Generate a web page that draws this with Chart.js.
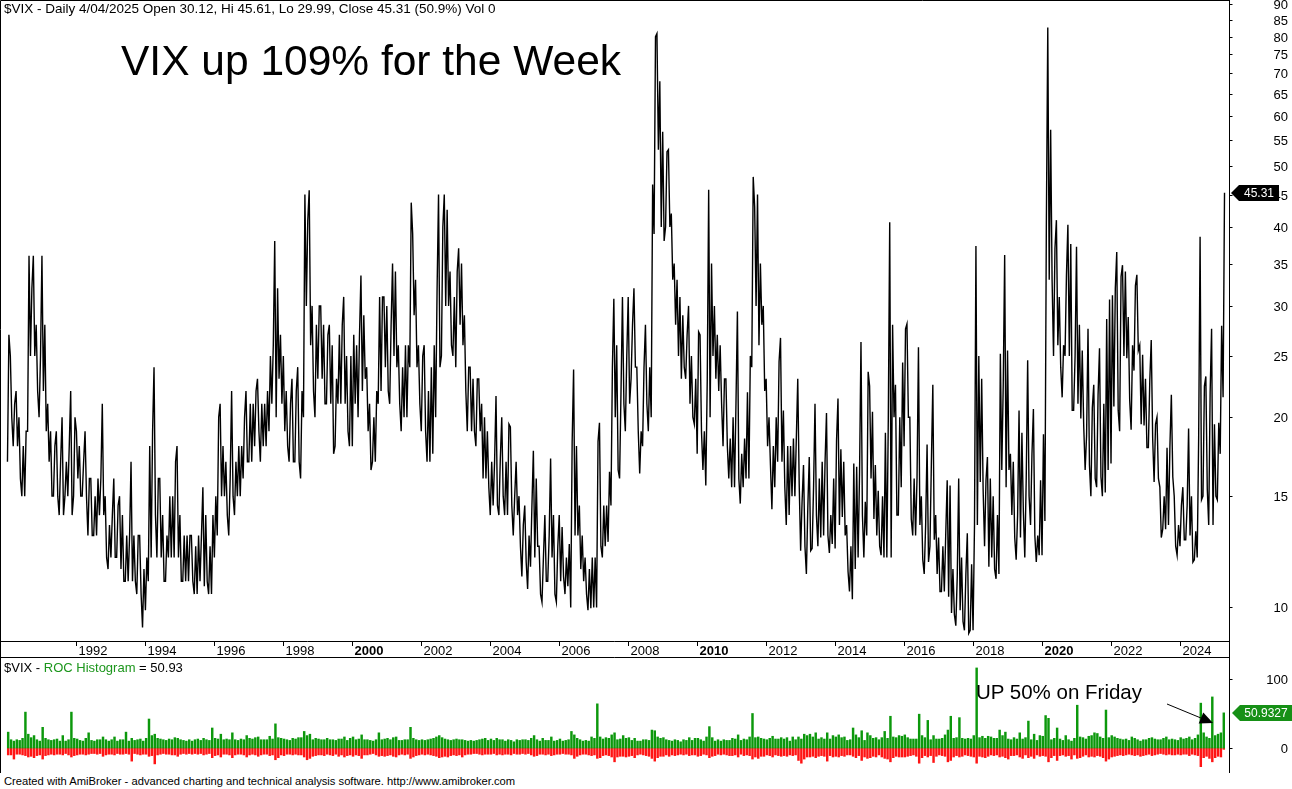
<!DOCTYPE html>
<html>
<head>
<meta charset="utf-8">
<script src="https://cdn.jsdelivr.net/npm/chart.js@4.4.1/dist/chart.umd.min.js"></script>
<style>
  html, body { margin: 0; padding: 0; background: #fff; }
  #wrap { position: relative; width: 1292px; height: 789px; overflow: hidden;
          font-family: Arial, "Liberation Sans", sans-serif; }
  canvas { position: absolute; left: 0; }
  .t { position: absolute; white-space: nowrap; color: #000; line-height: 1; }
</style>
</head>
<body>
<div id="wrap">
  <canvas id="main" width="1292" height="658" style="top:0"></canvas>
  <canvas id="roc" width="1292" height="115" style="top:658px"></canvas>
  <div class="t" style="left:4px;top:2px;font-size:13.5px">$VIX - Daily 4/04/2025 Open 30.12, Hi 45.61, Lo 29.99, Close 45.31 (50.9%) Vol 0</div>
  <div class="t" style="left:121px;top:40px;font-size:42.5px">VIX up 109% for the Week</div>
  <div class="t" style="left:4px;top:661px;font-size:13px">$VIX - <span style="color:#1c961c">ROC Histogram</span> = 50.93</div>
  <div class="t" style="left:976px;top:682px;font-size:20.5px">UP 50% on Friday</div>
  <div class="t" style="left:4px;top:776px;font-size:11.2px">Created with AmiBroker - advanced charting and technical analysis software. http://www.amibroker.com</div>
</div>
<script>
// monthly data, Jan 1990 .. Apr 2025
const startYear = 1990;

// lowest / highest VIX close seen in each month
const vixLow = [
  17,20,18,18,16,15,15,19,25,25,22,20,            // 1990
  22,19,17,15,15,15,14,14,15,15,14,15,            // 1991
  16,15,15,15,13,13,13,13,14,14,12,11.5,          // 1992
  12,12,12,11.5,11,11,11,11,11,10.5,10.5,9.3,     // 1993
  9.9,11,12,14,12,12,11,11,12,12,12,12,           // 1994
  11,11,11,11,11,10.5,10.5,11,10.8,11,10.5,10.5,  // 1995
  12,13,15,15,14,13,15,14,15,15,16,17,            // 1996
  17,17,18,19,17,18,18,19,21,20,23,21,            // 1997
  19,18,17,17,17,17,16,20,30,26,22,20,            // 1998
  23,23,21,21,21,17.5,18,21,21,21,19,18,          // 1999
  18,21,20,22,23,19,16.5,17,17,21,22,24,          // 2000
  22,21,25,24,21,19,20,20,24,29,24,21,            // 2001
  19,19,17,17,17.5,20,24,25,30,30,26,25,          // 2002
  24,28,26,22,19,19,19,18,19,16,16,15.5,          // 2003
  14,14.5,14.5,14,15,14,14,14.5,13,14,12.5,11.2,  // 2004
  11.8,10.7,11.6,12,12.5,10.5,10.2,11,11,12,10.5,10.2, // 2005
  11,11.2,10.5,10.8,10,13,13,11.5,11,10.5,9.9,9.97,    // 2006
  10,10,12.5,12,12.5,12.7,14.5,20,16.5,16,21,19,  // 2007
  21,23,24,19,16.3,18,21,19,20,39,53,40,          // 2008
  38,40,40,33,28,25,23,24,23,21,20,19.5,          // 2009
  17.5,19,16.5,15.6,20,25,23,22,21,18,18,16,      // 2010
  15.5,15.5,16,14.6,15.5,16,16,24,30,26,28,22,    // 2011
  18,16.8,14.3,15.5,17,17,15.5,13.5,14,15,15,15.7,     // 2012
  12.3,12.5,11.3,12.3,12.4,14,12.5,12.9,13,13,12.2,12.6, // 2013
  12.4,13.5,13.9,13,11.4,10.6,10.3,11.5,12,14,12,13,     // 2014
  16,13.8,13,12.5,12.1,12,12,12,20,14,14,15.5,    // 2015
  18,20,13.8,13,13,13.5,11.9,11.3,11.8,12.5,12.8,11.3,   // 2016
  10.6,10.6,10.6,10.4,9.8,9.75,9.36,9.9,9.5,9.2,9.1,9.2, // 2017
  9.2,13.5,15.8,15.4,12.5,11.6,12,11.5,11.1,11.3,16.5,15.5, // 2018
  16.5,14,12.9,11.9,12.9,14.2,12,15,13.5,13,11.8,12.1,   // 2019
  12.1,13.7,33,33,25,26,24,21.5,25,25,20.5,20.5,  // 2020
  21,19.9,19.4,16.5,16.8,15,16,15.5,16.1,15,15.2,16.5,   // 2021
  16.9,20.8,20.5,19,25,24.8,21.3,19.1,23.7,25.5,19.5,19.4, // 2022
  17.9,17.9,18.5,15.8,16,12.9,13.3,13.3,13.5,16.1,12.5,12.1, // 2023
  12.5,12.8,12.8,13,11.8,11.9,12,14.8,15,15.4,13.5,13.5, // 2024
  15,14.8,17.5,21.5                               // 2025
];
const vixHigh = [
  27,25,21,22,20,18,19,36,32,36,28,25,            // 1990
  36,28,21,19,18,19,17,20,17,18,22,20,            // 1991
  19,18,17,19,16,16,15,16,16,21,15,13.5,          // 1992
  14,16,14.5,15,14,13,13,17,13,13,13,11.5,        // 1993
  12,18,19,24,16,16,14,13,15,15,17,18,            // 1994
  14,13,13,13,13,12.5,13,13,15.5,14,12.5,14,      // 1995
  15,20,21,18,17,16,22,17,18,18,20,22,            // 1996
  21,21,22,23,21,21,22,25,26,38,32,27,            // 1997
  25,22,21,23,22,24,22,45,41,45.7,30,28,          // 1998
  30,30,28,27,28,26,23,27,28,31,25,25,            // 1999
  27,26,27,33.5,29,24,21,20,22,31,31,31,          // 2000
  30,28,35,34,26,24,26,26,43.7,39,33,26,          // 2001
  25,26,22,24,26,32,45,40,45,42.6,34,31,          // 2002
  34,37,35,29,24,24,23,23,23,21,20,19,            // 2003
  17,17,21.6,17.2,20,17,19.5,19.3,15,17,15,13.5,  // 2004
  14.5,13,14.5,17.7,16,12.5,12,14,13,17.2,14,12.5,     // 2005
  14,13.4,12,12.6,18.3,23.8,18,14.5,13,12,11.5,12,     // 2006
  12,18.3,19.6,14.5,14.5,16.4,24,30.8,26,22,31,25,     // 2007
  31,28,32,24,19,24,28,24,46.7,80,80.9,68,        // 2008
  56.6,52.6,53,42,35,33,31,29,27,30,25,23,        // 2009
  27.3,27,19,22.8,45.8,35,30,27,26,23,23,18.5,    // 2010
  20,21,29.4,17.5,18.5,21.9,25,48,43,45,35,30,    // 2011
  23,20,18,20,24.5,26.7,20.5,18,18,18.5,18.5,23,  // 2012
  14.7,16.8,14.4,17.3,15.5,21,16,17,17,20.3,14,16,     // 2013
  18.4,21.4,17.8,17,13.5,12.5,16.9,16.7,16.3,26.3,14.7,23.6, // 2014
  22.4,20.4,16.8,15.3,15,18.9,19.7,40.7,28,22.5,20,24.4,     // 2015
  27.6,28.1,20,16,16,25.8,15,13.5,18.1,17,22.5,14,     // 2016
  12.9,12.5,13.1,15.9,15.6,11.5,11.2,16,12,11.3,13.1,11.7,   // 2017
  13.5,37.3,25,23,15.9,17.3,16,15,14,25.2,22.5,36.1,   // 2018
  25.5,17.5,17,14,20.5,18.9,16,24.6,17.5,20.6,13,15.9, // 2019
  18.8,40.1,82.7,57,37,41,31,26,33.6,40.3,37.6,25,     // 2020
  37.2,28,25.5,18.7,27.6,20.7,22.5,21.7,25.7,21,28.6,30.7,   // 2021
  31.2,32,36.5,33.4,34.8,34,28.8,26,32.3,33.6,26,25.1,       // 2022
  23,22.9,26.5,19.5,20,15.5,15,17.9,18,21.7,15,13.5,   // 2023
  14.5,15.5,14.5,19.2,15,13.2,18.5,38.6,22.4,23.2,21.9,27.6, // 2024
  19.5,19.6,27.9,45.31                            // 2025
];

// biggest daily % rise / fall of each month (ROC histogram)
const rocUp = [
  23,12,10,12,11,14,52,20,15,18,12,10,  // 1990
  30,14,12,11,12,13,10,18,10,12,52,14,  // 1991
  13,11,10,14,22,11,10,12,12,16,12,10,  // 1992
  12,16,10,12,12,23,10,14,11,12,13,10,  // 1993
  14,42,18,20,14,13,12,11,13,12,15,14,  // 1994
  12,11,10,12,10,12,13,11,14,12,11,29,  // 1995
  14,13,20,12,13,12,22,12,11,13,12,18,  // 1996
  14,13,15,16,12,12,12,17,13,35,15,14,  // 1997
  13,12,11,14,13,15,15,24,18,20,12,14,  // 1998
  13,12,12,14,12,12,11,13,13,16,11,14,  // 1999
  16,12,13,19,12,12,11,10,12,22,12,13,  // 2000
  14,12,15,16,11,11,12,12,30,14,12,11,  // 2001
  12,11,12,13,14,16,18,15,13,12,11,12,  // 2002
  13,12,12,11,10,11,10,11,12,13,14,11,  // 2003
  13,11,14,12,12,10,12,11,9,12,11,12,   // 2004
  12,11,14,18,12,10,14,11,11,16,10,11,  // 2005
  13,10,11,12,24,19,14,12,10,11,10,16,  // 2006
  14,64,16,13,15,14,19,22,12,13,18,14,  // 2007
  15,11,14,10,10,12,12,11,26,25,16,14,  // 2008
  15,12,11,10,12,11,9,12,11,15,11,14,   // 2009
  14,12,10,16,31,15,10,12,10,12,11,11,  // 2010
  14,13,19,11,13,12,16,50,15,16,14,13,  // 2011
  12,14,17,13,13,15,13,15,10,16,12,16,  // 2012
  13,20,18,20,16,22,13,15,13,22,13,18,  // 2013
  16,19,15,16,11,12,29,19,15,25,11,22,  // 2014
  18,14,15,12,15,24,14,46,16,15,18,17,  // 2015
  19,15,13,13,13,49,18,15,40,12,18,13,  // 2016
  13,14,19,26,46,14,15,44,14,13,14,13,  // 2017
  18,116,15,17,14,17,16,14,14,26,18,23, // 2018
  13,12,15,13,22,13,15,39,12,20,11,18,  // 2019
  17,47,43,12,14,29,13,11,18,12,10,14,  // 2020
  62,16,15,13,17,18,22,21,16,14,55,15,  // 2021
  18,16,14,13,12,13,11,16,14,12,10,12,  // 2022
  12,14,15,13,12,12,14,16,12,13,12,11,  // 2023
  15,13,14,16,12,14,19,65,22,16,14,74,  // 2024
  18,20,22,50.93                        // 2025
];
const rocDown = [
  -10,-10,-16,-9,-9,-10,-11,-13,-12,-14,-11,-10,  // 1990
  -16,-11,-10,-9,-10,-9,-9,-10,-8,-10,-13,-11,    // 1991
  -10,-9,-9,-10,-9,-8,-8,-9,-8,-12,-10,-9,        // 1992
  -9,-10,-8,-9,-9,-8,-9,-19,-8,-9,-10,-9,         // 1993
  -9,-12,-11,-23,-10,-9,-8,-9,-9,-10,-10,-12,     // 1994
  -9,-8,-9,-8,-9,-8,-9,-8,-10,-9,-8,-14,          // 1995
  -11,-10,-13,-9,-9,-10,-14,-10,-9,-9,-10,-13,    // 1996
  -10,-9,-10,-12,-10,-9,-9,-11,-10,-17,-14,-10,   // 1997
  -11,-9,-9,-10,-9,-10,-10,-13,-17,-15,-12,-11,   // 1998
  -10,-10,-11,-9,-10,-11,-9,-12,-10,-13,-11,-10,  // 1999
  -12,-10,-11,-15,-10,-10,-9,-8,-10,-12,-11,-12,  // 2000
  -11,-10,-12,-13,-10,-9,-10,-9,-15,-13,-11,-10,  // 2001
  -9,-10,-9,-10,-11,-12,-14,-13,-12,-13,-11,-10,  // 2002
  -11,-10,-13,-10,-9,-9,-8,-8,-9,-10,-9,-9,       // 2003
  -9,-8,-10,-9,-10,-9,-9,-10,-8,-9,-9,-8,         // 2004
  -9,-8,-10,-12,-11,-9,-9,-10,-9,-11,-10,-9,      // 2005
  -9,-8,-9,-9,-10,-15,-12,-10,-9,-9,-10,-11,      // 2006
  -10,-15,-14,-11,-10,-11,-13,-20,-13,-12,-12,-13,// 2007
  -12,-11,-14,-10,-9,-10,-11,-12,-15,-19,-14,-12, // 2008
  -12,-10,-12,-10,-11,-10,-9,-10,-9,-11,-10,-10,  // 2009
  -12,-11,-9,-10,-14,-12,-11,-9,-10,-9,-10,-11,   // 2010
  -11,-10,-13,-9,-11,-10,-11,-16,-13,-15,-12,-12, // 2011
  -10,-11,-13,-10,-11,-12,-11,-12,-10,-11,-10,-18,// 2012
  -22,-16,-13,-13,-12,-14,-12,-11,-12,-19,-11,-13,// 2013
  -12,-13,-11,-12,-10,-10,-12,-14,-11,-18,-13,-15,// 2014
  -14,-12,-13,-10,-13,-15,-16,-20,-14,-12,-13,-13,// 2015
  -13,-12,-11,-10,-12,-22,-14,-11,-13,-11,-21,-12,// 2016
  -10,-11,-12,-20,-18,-13,-11,-13,-12,-10,-11,-12,// 2017
  -13,-22,-12,-13,-14,-12,-10,-11,-10,-13,-12,-14,// 2018
  -16,-11,-11,-10,-13,-15,-10,-14,-12,-15,-10,-12,// 2019
  -11,-12,-20,-14,-11,-18,-11,-10,-12,-11,-16,-10,// 2020
  -15,-14,-12,-10,-13,-12,-13,-11,-12,-14,-19,-16,// 2021
  -13,-12,-11,-10,-11,-10,-9,-10,-11,-10,-12,-11, // 2022
  -10,-9,-11,-10,-9,-8,-9,-10,-9,-10,-10,-9,      // 2023
  -10,-9,-9,-11,-9,-10,-11,-27,-14,-12,-15,-20,   // 2024
  -14,-12,-13,-2                                  // 2025
];

const priceTicks = [10, 15, 20, 25, 30, 35, 40, 45, 50, 55, 60, 65, 70, 75, 80, 85, 90];
const rocTicks = [0, 100];
const yearTicks = [1992, 1994, 1996, 1998, 2000, 2002, 2004, 2006, 2008, 2010, 2012, 2014, 2016, 2018, 2020, 2022, 2024];
const lastClose = 45.31;
const lastRoc = 50.9327;

const X_MIN = 1989.85, X_MAX = 2025.43;
const FAMILY = 'Arial, "Liberation Sans", sans-serif';
const FONT = '13px ' + FAMILY;
const TAG_FONT = '12px ' + FAMILY;
const monthPos = (i, f) => startYear + (i + f) / 12;

// two points per month, low/high ordered by where the next month goes
const vixPoints = [];
vixLow.forEach((lo, i) => {
  const hi = vixHigh[i];
  const next = i + 1 < vixLow.length ? (vixLow[i + 1] + vixHigh[i + 1]) / 2 : Infinity;
  const rising = next >= (lo + hi) / 2;
  vixPoints.push({ x: monthPos(i, 0.1), y: rising ? lo : hi });
  vixPoints.push({ x: monthPos(i, 0.6), y: rising ? hi : lo });
});
const upPoints = rocUp.map((v, i) => ({ x: monthPos(i, 0.35), y: v }));
const downPoints = rocDown.map((v, i) => ({ x: monthPos(i, 0.35), y: v }));

function drawTag(ctx, tipX, cy, w, h, fill, text) {
  ctx.beginPath();
  ctx.moveTo(tipX, cy);
  ctx.lineTo(tipX + 8, cy - h / 2);
  ctx.lineTo(tipX + w, cy - h / 2);
  ctx.lineTo(tipX + w, cy + h / 2);
  ctx.lineTo(tipX + 8, cy + h / 2);
  ctx.closePath();
  ctx.fillStyle = fill;
  ctx.fill();
  ctx.fillStyle = '#fff';
  ctx.font = TAG_FONT;
  ctx.textAlign = 'center';
  ctx.textBaseline = 'middle';
  ctx.fillText(text, tipX + 8 + (w - 8) / 2, cy + 1);
}

const mainDecor = {
  id: 'mainDecor',
  afterDraw(chart) {
    const { ctx, chartArea: a, scales: { x, y } } = chart;
    const ax = Math.round(a.right) + 0.5;
    const H = chart.height;
    ctx.save();
    ctx.strokeStyle = '#000';
    ctx.lineWidth = 1;
    ctx.beginPath();
    ctx.moveTo(0.5, H); ctx.lineTo(0.5, 0.5); ctx.lineTo(ax, 0.5);
    ctx.moveTo(ax, 0); ctx.lineTo(ax, H);
    ctx.moveTo(0, 641.5); ctx.lineTo(ax, 641.5);
    ctx.moveTo(0, H - 0.5); ctx.lineTo(ax, H - 0.5);
    ctx.stroke();

    // price axis
    ctx.font = FONT;
    ctx.fillStyle = '#000';
    ctx.textAlign = 'right';
    ctx.textBaseline = 'middle';
    priceTicks.forEach(v => {
      const py = Math.round(y.getPixelForValue(v)) + 0.5;
      ctx.beginPath(); ctx.moveTo(ax, py); ctx.lineTo(ax + 3, py); ctx.stroke();
      ctx.fillText(String(v), 1288, py + 1);
    });

    // year axis
    ctx.textAlign = 'left';
    ctx.textBaseline = 'alphabetic';
    yearTicks.forEach(yr => {
      const px = Math.round(x.getPixelForValue(yr + 0.005)) + 0.5;
      ctx.beginPath(); ctx.moveTo(px, 642); ctx.lineTo(px, 646); ctx.stroke();
      ctx.font = (yr % 10 === 0 ? 'bold ' : '') + FONT;
      ctx.fillText(String(yr), px + 2, 655);
    });

    drawTag(ctx, 1231, Math.round(y.getPixelForValue(lastClose)), 48, 16, '#000', lastClose.toFixed(2));
    ctx.restore();
  }
};

const rocDecor = {
  id: 'rocDecor',
  afterDraw(chart) {
    const { ctx, chartArea: a, scales: { y } } = chart;
    const ax = Math.round(a.right) + 0.5;
    const H = chart.height;
    ctx.save();
    ctx.strokeStyle = '#000';
    ctx.lineWidth = 1;
    ctx.beginPath();
    ctx.moveTo(0.5, 0); ctx.lineTo(0.5, H);
    ctx.moveTo(ax, 0); ctx.lineTo(ax, H);
    ctx.stroke();

    ctx.font = FONT;
    ctx.fillStyle = '#000';
    ctx.textAlign = 'right';
    ctx.textBaseline = 'middle';
    rocTicks.forEach(v => {
      const py = Math.round(y.getPixelForValue(v)) + 0.5;
      ctx.beginPath(); ctx.moveTo(ax, py); ctx.lineTo(ax + 3, py); ctx.stroke();
      ctx.fillText(String(v), 1288, py + 1);
    });

    // arrow to the last bar
    const x0 = 1167, y0 = 46, x1 = 1213, y1 = 65;
    const len = Math.hypot(x1 - x0, y1 - y0);
    const ux = (x1 - x0) / len, uy = (y1 - y0) / len;
    const bx = x1 - ux * 13, by = y1 - uy * 13;
    ctx.beginPath(); ctx.moveTo(x0, y0); ctx.lineTo(bx, by); ctx.stroke();
    ctx.beginPath();
    ctx.moveTo(x1, y1);
    ctx.lineTo(bx - uy * 6, by + ux * 6);
    ctx.lineTo(bx + uy * 6, by - ux * 6);
    ctx.closePath();
    ctx.fillStyle = '#000';
    ctx.fill();

    drawTag(ctx, 1232, Math.round(y.getPixelForValue(lastRoc)), 60, 16, '#169016', lastRoc.toFixed(4));
    ctx.restore();
  }
};

new Chart(document.getElementById('main'), {
  type: 'line',
  data: {
    datasets: [{
      data: vixPoints,
      borderColor: '#000',
      borderWidth: 1.4,
      pointRadius: 0,
      tension: 0,
      fill: false
    }]
  },
  options: {
    responsive: false,
    animation: false,
    events: [],
    layout: { padding: { left: 2, right: 63, top: 1, bottom: 17 } },
    plugins: { legend: { display: false }, tooltip: { enabled: false } },
    scales: {
      x: { type: 'linear', min: X_MIN, max: X_MAX, display: false },
      y: { type: 'logarithmic', min: 8.85, max: 91.1, display: false }
    }
  },
  plugins: [mainDecor]
});

new Chart(document.getElementById('roc'), {
  type: 'bar',
  data: {
    datasets: [
      { data: upPoints, backgroundColor: '#0c980c', barThickness: 1.8, grouped: false },
      { data: downPoints, backgroundColor: '#ff1414', barThickness: 1.8, grouped: false }
    ]
  },
  options: {
    responsive: false,
    animation: false,
    events: [],
    layout: { padding: { left: 2, right: 63, top: 0, bottom: 0 } },
    plugins: { legend: { display: false }, tooltip: { enabled: false } },
    scales: {
      x: { type: 'linear', min: X_MIN, max: X_MAX, offset: false, display: false },
      y: { type: 'linear', min: -36.2, max: 130.4, display: false }
    }
  },
  plugins: [rocDecor]
});
</script>
</body>
</html>
